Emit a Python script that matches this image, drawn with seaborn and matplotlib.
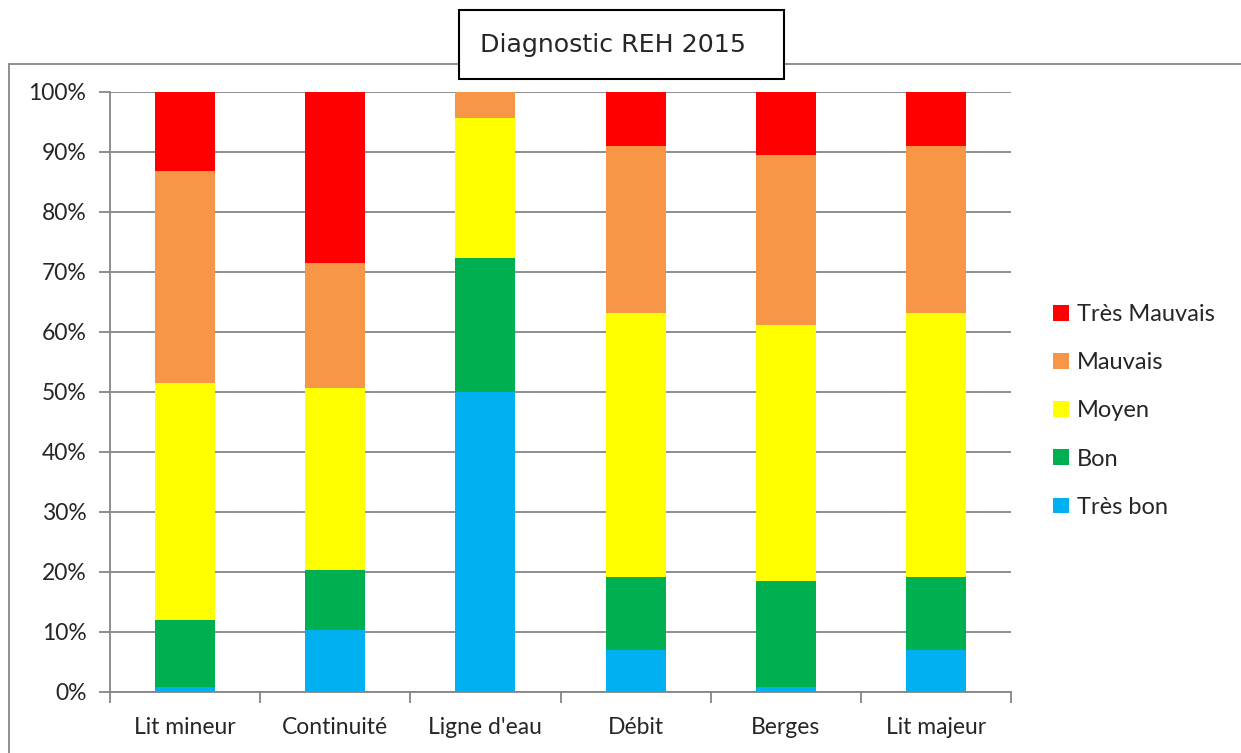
import numpy as np
import pandas as pd
import matplotlib
matplotlib.use("Agg")
import matplotlib.pyplot as plt
from matplotlib.patches import Rectangle
from matplotlib.ticker import FixedLocator, PercentFormatter
import seaborn as sns

# Données (% par compartiment)
categories = ["Lit mineur", "Continuité", "Ligne d'eau", "Débit", "Berges", "Lit majeur"]
tres_bon = [0.8, 10.3, 50.0, 7.0, 0.8, 7.0]
bon = [11.2, 10.0, 22.4, 12.2, 17.7, 12.2]
moyen = [39.5, 30.4, 23.2, 43.9, 42.7, 43.9]
mauvais = [35.3, 20.8, 4.4, 27.9, 28.3, 27.9]
tres_mauvais = [13.2, 28.5, 0.0, 9.0, 10.5, 9.0]

classes = ["Très bon", "Bon", "Moyen", "Mauvais", "Très Mauvais"]
couleurs = ["#00B0F0", "#00B050", "#FFFF00", "#F79646", "#FF0000"]

df = pd.DataFrame({"Compartiment": categories, "Très bon": tres_bon, "Bon": bon,
                   "Moyen": moyen, "Mauvais": mauvais, "Très Mauvais": tres_mauvais})
cumul = df[classes].cumsum(axis=1)

sns.set_style("white")
plt.rcParams["font.family"] = ["Lato", "DejaVu Sans"]

fig = plt.figure(figsize=(12.41, 7.53), dpi=100)
ax = fig.add_axes([110 / 1241, 1 - 692 / 753, 901 / 1241, 600 / 753])

# barres empilées : on trace les cumuls du haut vers le bas
for cl, col in reversed(list(zip(classes, couleurs))):
    sns.barplot(x=df["Compartiment"], y=cumul[cl], color=col, width=0.4,
                saturation=1, ax=ax, label=cl, linewidth=0, zorder=3)

h, l = ax.get_legend_handles_labels()
if ax.get_legend() is not None:
    ax.get_legend().remove()

ax.set_xlim(-0.5, len(categories) - 0.5)
ax.set_ylim(0, 100)
ax.set_yticks(np.arange(0, 101, 10))
ax.yaxis.set_major_formatter(PercentFormatter(decimals=0))
ax.set_xlabel("")
ax.set_ylabel("")
ax.grid(axis="y", color="#868686", linewidth=1.3, zorder=0)
ax.set_axisbelow(True)

for s in ["top", "right"]:
    ax.spines[s].set_visible(False)
for s in ["left", "bottom"]:
    ax.spines[s].set_color("#868686")
    ax.spines[s].set_linewidth(1.3)

ax.tick_params(axis="y", length=8, width=1.3, color="#868686", labelsize=16.5, pad=9, left=True)
ax.tick_params(axis="x", which="major", length=0, labelsize=16.5, pad=18)
ax.xaxis.set_minor_locator(FixedLocator(np.arange(-0.5, len(categories), 1)))
ax.tick_params(axis="x", which="minor", length=8, width=1.3, color="#868686", bottom=True)

# légende (ordre inversé, comme Excel)
leg = fig.legend(h, l, loc="center left", bbox_to_anchor=(1032 / 1241, 1 - 411 / 753),
                 frameon=False, fontsize=17, handlelength=0.65, handleheight=0.65,
                 handletextpad=0.35, labelspacing=1.15)

# cadre du graphique et titre encadré
fig.patches.append(Rectangle((9 / 1241, -0.1), 1.2, 1.1 - 64 / 753, transform=fig.transFigure,
                             fill=False, edgecolor="#868686", linewidth=1.3))
fig.patches.append(Rectangle((459 / 1241, 1 - 79 / 753), 325 / 1241, 69 / 753,
                             transform=fig.transFigure, facecolor="white",
                             edgecolor="black", linewidth=1.5, zorder=5))
fig.text(613 / 1241, 1 - 45 / 753, "Diagnostic REH 2015", ha="center", va="center",
         fontsize=18.2, family=["DejaVu Sans"], zorder=6)

fig.savefig("out.png", dpi=100)
